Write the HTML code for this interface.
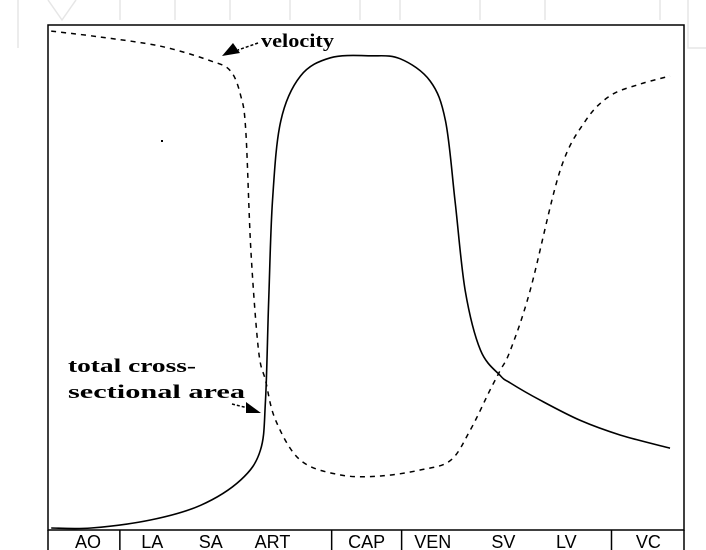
<!DOCTYPE html>
<html><head><meta charset="utf-8"><style>
html,body{margin:0;padding:0;background:#fff;}
svg{display:block;}
</style></head><body>
<svg id="chart" width="706" height="550" viewBox="0 0 706 550" xmlns="http://www.w3.org/2000/svg">
<g stroke="#e6e6e6" stroke-width="1.5" fill="none">
<path d="M18 48 V0 M48 0 L62 20 L76 0 M120 0 V20 M175 0 V20 M230 0 V20 M290 0 V20 M360 0 V20 M400 0 V20 M480 0 V20 M545 0 V20 M660 0 V20 M688 0 V48 H706"/>
</g>
<rect x="48" y="25" width="636" height="505" fill="none" stroke="#000" stroke-width="1.5"/>
<g id="axis"></g>
<path id="area" fill="none" stroke="#000" stroke-width="1.6"/>
<path id="vel" fill="none" stroke="#000" stroke-width="1.5" stroke-dasharray="5,5"/>
<rect x="161" y="140" width="2" height="2" fill="#000"/>
<text x="261" y="47" font-family="Liberation Serif, serif" font-weight="bold" font-size="19" textLength="73" lengthAdjust="spacingAndGlyphs">velocity</text>
<path d="M258 43 L238 50" stroke="#000" stroke-width="1.5" stroke-dasharray="3,2"/>
<polygon points="222,56 233,43 240,53" fill="#000"/>
<text x="68" y="372" font-family="Liberation Serif, serif" font-weight="bold" font-size="19" textLength="128" lengthAdjust="spacingAndGlyphs">total cross-</text>
<text x="68" y="398" font-family="Liberation Serif, serif" font-weight="bold" font-size="19" textLength="177" lengthAdjust="spacingAndGlyphs">sectional area</text>
<path d="M232 404 L248 408" stroke="#000" stroke-width="1.5" stroke-dasharray="3,2"/>
<polygon points="261,413 246,402 246,413" fill="#000"/>
</svg>
<script>
const segLabels = ["AO","LA","SA","ART","CAP","VEN","SV","LV","VC"];
const segPos = [6.3, 16.4, 25.6, 35.3, 50.1, 60.5, 71.6, 81.5, 94.4];
const dividers = [11.3, 44.6, 55.6, 88.6];
const areaX = [0.5,6.8,16.2,24,30.3,33.4,34.2,34.7,35.3,36.6,39.7,44.4,50.7,55.4,60.1,62.5,64,65.6,68,71.1,72.7,77.4,83.7,90,97.8];
const areaY = [0.4,0.4,2,4.9,9.9,15.8,25.7,45.5,65.2,81,89.9,93.5,93.9,93.3,88.9,81,65.2,47.4,35.6,30.6,29.1,25.7,21.7,18.8,16.2];
const velX = [0.5,8.3,17.7,25.6,28.7,30.3,31.1,31.9,33.1,34.2,35.8,39.7,46,52.3,58.6,63.3,66.4,69.5,71.1,72.7,75.8,80.5,84.5,88.4,93.1,97.8];
const velY = [98.8,97.6,95.8,92.9,90.9,86,79,55.3,35.6,29.6,21.7,13.8,10.9,10.7,11.9,13.8,19.8,27.7,31.6,35.6,47.4,71.1,81,86,88.3,89.9];
const X0=48, X1=684, Y0=530, Y1=25;
function sx(v){return X0+v/100*(X1-X0);}
function sy(v){return Y0-v/100*(Y0-Y1);}
function pathFrom(xs,ys){
  const p=xs.map((x,i)=>[sx(x),sy(ys[i])]);
  let d="M"+p[0][0].toFixed(1)+" "+p[0][1].toFixed(1);
  for(let i=0;i<p.length-1;i++){
    const a=p[Math.max(0,i-1)],b=p[i],c=p[i+1],e=p[Math.min(p.length-1,i+2)];
    const c1=[b[0]+(c[0]-a[0])/6,b[1]+(c[1]-a[1])/6];
    const c2=[c[0]-(e[0]-b[0])/6,c[1]-(e[1]-b[1])/6];
    d+=" C"+c1.map(n=>n.toFixed(1)).join(" ")+" "+c2.map(n=>n.toFixed(1)).join(" ")+" "+c[0].toFixed(1)+" "+c[1].toFixed(1);
  }
  return d;
}
document.getElementById('area').setAttribute('d',pathFrom(areaX,areaY));
document.getElementById('vel').setAttribute('d',pathFrom(velX,velY));
const NS="http://www.w3.org/2000/svg";
const ax=document.getElementById('axis');
dividers.concat([0,100]).forEach(v=>{
  const l=document.createElementNS(NS,'line');
  
  
  l.setAttribute('x1',sx(v));l.setAttribute('x2',sx(v));
  l.setAttribute('y1',530);l.setAttribute('y2',550);
  l.setAttribute('stroke','#000');l.setAttribute('stroke-width','1.5');
  ax.appendChild(l);
});
segLabels.forEach((s,i)=>{
  const t=document.createElementNS(NS,'text');
  
  
  t.setAttribute('x',sx(segPos[i]));t.setAttribute('y',548);
  t.setAttribute('text-anchor','middle');
  t.setAttribute('font-family','Liberation Sans, sans-serif');
  t.setAttribute('font-size','18');
  t.textContent=s;
  ax.appendChild(t);
});
</script>
</body></html>
